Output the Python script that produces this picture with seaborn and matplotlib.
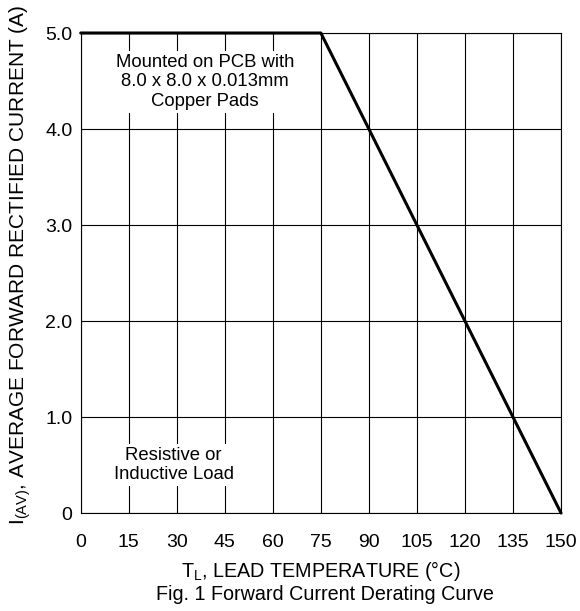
import matplotlib
matplotlib.use("Agg")
import matplotlib.pyplot as plt
import seaborn as sns
import pandas as pd

temps = [0, 75, 150]
current = [5.0, 5.0, 0.0]
xticks = [0, 15, 30, 45, 60, 75, 90, 105, 120, 135, 150]
yticks = [0, 1, 2, 3, 4, 5]
ytick_labels = ["0", "1.0", "2.0", "3.0", "4.0", "5.0"]

sns.set_theme(style="white")
plt.rcParams["font.family"] = ["Liberation Sans", "DejaVu Sans"]
plt.rcParams["mathtext.fontset"] = "custom"
plt.rcParams["mathtext.rm"] = "Liberation Sans"

fig = plt.figure(figsize=(5.8, 6.11), dpi=100)
ax = fig.add_axes([80.7/580, 1-513/611, (561-80.7)/580, (513-33)/611])

df = pd.DataFrame({"T": temps, "I": current})
sns.lineplot(data=df, x="T", y="I", ax=ax, color="black", lw=2.2, zorder=5)
for ln in ax.get_lines():
    ln.set_clip_on(False)

ax.set_xlim(0, 150)
ax.set_ylim(0, 5)
ax.set_xticks(xticks)
ax.set_xticklabels([str(t) for t in xticks])
ax.set_yticks(yticks)
ax.set_yticklabels(ytick_labels)
ax.tick_params(axis="both", length=0, labelsize=14, colors="black")
ax.tick_params(axis="x", pad=15)
ax.tick_params(axis="y", pad=6)
ax.grid(True, color="black", lw=0.8)
for s in ax.spines.values():
    s.set_color("black")
    s.set_linewidth(0.8)

ax.set_xlabel(r"T$_{\mathregular{L}}$, LEAD TEMPERATURE (°C)", fontsize=14.2, color="black")
ax.xaxis.set_label_coords(0.5, (513-559)/480)
ax.set_ylabel(r"I$_{\mathregular{(AV)}}$, AVERAGE FORWARD RECTIFIED CURRENT (A)", fontsize=15, color="black")
ax.yaxis.set_label_coords((33-80.7)/480.3, (513-265)/480)
fig.text(325/580, 1-594/611, "Fig. 1 Forward Current Derating Curve", ha="center", va="center", fontsize=14.2, color="black")

ax.text(38.8, 4.49, "Mounted on PCB with\n8.0 x 8.0 x 0.013mm\nCopper Pads", ha="center", va="center",
        fontsize=13.3, color="black", linespacing=1.2,
        bbox=dict(facecolor="white", edgecolor="none", pad=2), zorder=6)
ax.text(29, 0.5, "Resistive or\nInductive Load", ha="center", va="center",
        fontsize=13.3, color="black", linespacing=1.2,
        bbox=dict(facecolor="white", edgecolor="none", pad=2), zorder=6)

fig.savefig("out.png", dpi=100)
